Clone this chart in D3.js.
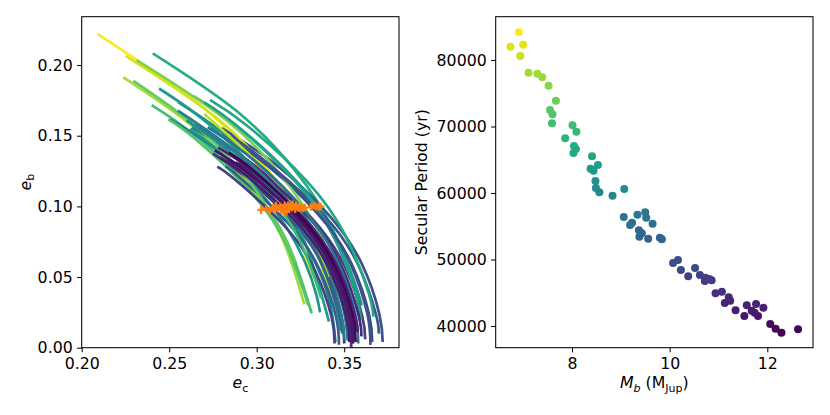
<!DOCTYPE html>
<html>
<head>
<meta charset="utf-8">
<script src="https://cdn.jsdelivr.net/npm/d3@7"></script>
<style>
  body { margin: 0; background: #fff; }
  text { font-family: "DejaVu Sans", sans-serif; }
</style>
</head>
<body>
<script>
var width = 830;
var height = 415;

// secular trajectories (e_c, e_b), shade = position on viridis
var trajShade = [0.62, 1.00, 0.25, 0.93, 0.70, 0.22, 0.55, 0.86,
                 0.50, 0.80, 0.28, 0.45, 0.60, 0.73, 0.18, 0.40, 0.15,
                 0.58, 0.55, 0.35, 0.52, 0.30, 0.76, 0.20, 0.26, 0.90,
                 0.12, 0.40, 0.48, 0.68, 0.32, 0.15, 0.42, 0.38,
                 0.05, 0.08, 0.03, 0.10, 0.00, 0.06];
var trajectories = [
  [[0.2406,0.2083],[0.288,0.168],[0.3215,0.126],[0.3434,0.084],[0.3559,0.042],[0.3584,0.026]],
  [[0.209,0.222],[0.2696,0.1698],[0.3009,0.1274],[0.3215,0.0849],[0.3317,0.050]],
  [[0.28,0.1554],[0.3107,0.1298],[0.3409,0.0944],[0.3602,0.059],[0.3701,0.0236],[0.372,0.004]],
  [[0.2251,0.2065],[0.2764,0.1632],[0.3085,0.1224],[0.3296,0.0816],[0.342,0.0385]],
  [[0.24,0.1716],[0.2664,0.1485],[0.2974,0.1114],[0.3176,0.0743],[0.3314,0.0243]],
  [[0.28,0.1513],[0.3057,0.1293],[0.3354,0.094],[0.3544,0.0588],[0.3642,0.0235],[0.366,0.004]],
  [[0.2638,0.178],[0.2896,0.156],[0.3233,0.117],[0.3453,0.078],[0.3579,0.039],[0.3596,0.030]],
  [[0.2238,0.1912],[0.2636,0.1563],[0.2942,0.1172],[0.3143,0.0782],[0.3272,0.0307]],
  [[0.2552,0.1736],[0.2816,0.1512],[0.3143,0.1134],[0.3358,0.0756],[0.348,0.0378],[0.3517,0.010]],
  [[0.2314,0.2035],[0.2816,0.162],[0.3143,0.1215],[0.3358,0.081],[0.3472,0.0443]],
  [[0.29,0.1441],[0.309,0.1276],[0.3391,0.0928],[0.3582,0.058],[0.3682,0.0232],[0.3697,0.010]],
  [[0.2505,0.1616],[0.276,0.141],[0.3081,0.1058],[0.3291,0.0705],[0.3411,0.0353],[0.345,0.004]],
  [[0.2733,0.1754],[0.2944,0.1572],[0.3286,0.1179],[0.351,0.0786],[0.3638,0.0393],[0.3667,0.022]],
  [[0.2495,0.1616],[0.2656,0.147],[0.2965,0.1103],[0.3167,0.0735],[0.3295,0.030]],
  [[0.277,0.1468],[0.3023,0.1254],[0.3318,0.0912],[0.3505,0.057],[0.3602,0.0228],[0.362,0.006]],
  [[0.2629,0.1559],[0.284,0.1392],[0.317,0.1044],[0.3386,0.0696],[0.351,0.0348],[0.355,0.003]],
  [[0.275,0.1373],[0.2923,0.1221],[0.3208,0.0888],[0.3389,0.0555],[0.3483,0.0222],[0.35,0.003]],
  [[0.27,0.1736],[0.2884,0.1572],[0.3219,0.1179],[0.3439,0.0786],[0.3564,0.0393],[0.3595,0.020]],
  [[0.2442,0.1834],[0.2736,0.1572],[0.3054,0.1179],[0.3262,0.0786],[0.3413,0.0184]],
  [[0.27,0.1532],[0.2973,0.1293],[0.3263,0.094],[0.3447,0.0588],[0.3542,0.0235],[0.3558,0.007]],
  [[0.262,0.1548],[0.2823,0.1348],[0.3098,0.098],[0.3273,0.0613],[0.3342,0.0368],[0.3362,0.025]],
  [[0.282,0.1282],[0.2898,0.121],[0.318,0.088],[0.336,0.055],[0.3453,0.022],[0.347,0.002]],
  [[0.2295,0.1888],[0.2648,0.1572],[0.2956,0.1179],[0.3157,0.0786],[0.3222,0.060]],
  [[0.2775,0.128],[0.2877,0.1188],[0.3157,0.0864],[0.3335,0.054],[0.3428,0.0216],[0.3445,0.003]],
  [[0.285,0.1499],[0.3048,0.132],[0.3345,0.096],[0.3534,0.06],[0.3632,0.024],[0.365,0.002]],
  [[0.27,0.1653],[0.3108,0.1179],[0.332,0.0786],[0.3416,0.050]],
  [[0.29,0.1363],[0.3007,0.1265],[0.3299,0.092],[0.3486,0.0575],[0.3582,0.023],[0.3598,0.008]],
  [[0.265,0.158],[0.294,0.132],[0.3226,0.096],[0.3408,0.06],[0.3502,0.024],[0.352,0.005]],
  [[0.26,0.1609],[0.2906,0.1331],[0.3189,0.0968],[0.3369,0.0605],[0.3463,0.0242],[0.3476,0.012]],
  [[0.285,0.139],[0.3036,0.1148],[0.3243,0.0765],[0.3368,0.035]],
  [[0.283,0.1334],[0.2915,0.1254],[0.3199,0.0912],[0.3379,0.057],[0.3473,0.0228],[0.3487,0.010]],
  [[0.29,0.1296],[0.2957,0.1243],[0.3244,0.0904],[0.3427,0.0565],[0.3522,0.0226],[0.354,0.0]],
  [[0.255,0.1678],[0.2923,0.1348],[0.3208,0.098],[0.3389,0.0613],[0.3483,0.0245],[0.35,0.006]],
  [[0.272,0.156],[0.299,0.132],[0.3281,0.096],[0.3466,0.06],[0.3562,0.024],[0.358,0.003]],
  [[0.276,0.1396],[0.2965,0.1221],[0.3254,0.0888],[0.3437,0.0555],[0.3532,0.0222],[0.355,0.003]],
  [[0.279,0.1348],[0.2948,0.121],[0.3235,0.088],[0.3418,0.055],[0.3512,0.022],[0.353,0.004]],
  [[0.285,0.1325],[0.2982,0.121],[0.3272,0.088],[0.3457,0.055],[0.3552,0.022],[0.3562,0.015]],
  [[0.278,0.1418],[0.299,0.1238],[0.3281,0.09],[0.3466,0.0563],[0.3562,0.0225],[0.3576,0.011]],
  [[0.284,0.138],[0.2985,0.125],[0.3265,0.091],[0.345,0.057],[0.3547,0.0228],[0.3565,0.004]],
  [[0.288,0.131],[0.2995,0.1205],[0.3262,0.0875],[0.3445,0.0545],[0.3538,0.0218],[0.3555,0.006]]
];

// present-day eccentricities (orange crosses)
var obsEc = [0.3025, 0.3055, 0.3075, 0.309, 0.3105, 0.312, 0.3135, 0.314, 0.315, 0.316,
             0.3165, 0.3175, 0.318, 0.3185, 0.3195, 0.320, 0.3205, 0.3215, 0.322, 0.3225,
             0.3235, 0.3245, 0.3255, 0.3265, 0.3275, 0.331, 0.3325, 0.334, 0.3355, 0.3365,
             0.311, 0.3155, 0.317];
var obsEb = [0.0975, 0.0985, 0.097, 0.099, 0.0975, 0.0985, 0.100, 0.0975, 0.099, 0.1005,
             0.098, 0.0995, 0.101, 0.0985, 0.100, 0.099, 0.1015, 0.0995, 0.098, 0.1005,
             0.099, 0.0998, 0.099, 0.0985, 0.0992, 0.0995, 0.1005, 0.0995, 0.100, 0.0998,
             0.1005, 0.0965, 0.096];

// secular period vs planet b mass
var massB = [6.91, 6.74, 7.00, 6.94, 7.11, 7.29, 7.39, 7.52, 7.67, 7.55,
             7.60, 7.59, 8.01, 8.09, 7.86, 8.04, 8.08, 8.03, 8.41, 8.53,
             8.38, 8.44, 8.48, 8.49, 8.56, 8.83, 9.07, 9.06, 9.34, 9.50,
             9.52, 9.65, 9.23, 9.19, 9.37, 9.43, 9.38, 9.56, 9.80, 9.84,
             10.07, 10.17, 10.23, 10.38, 10.52, 10.62, 10.73, 10.86, 10.72, 10.81,
             10.94, 11.07, 11.21, 11.13, 11.24, 11.35, 11.53, 11.58, 11.68, 11.77,
             11.81, 11.92, 11.74, 12.06, 12.17, 12.29, 12.63];
var secPeriod = [84170, 82000, 82300, 80600, 78090, 77940, 77400, 76140, 73880, 72480,
                 71830, 70480, 70180, 69220, 68230, 67070, 66620, 66020, 65520, 64210,
                 63650, 63350, 61800, 60750, 60110, 59600, 60600, 56390, 56740, 57100,
                 56290, 55380, 55530, 55190, 54390, 53940, 53430, 53130, 53280, 53040,
                 49470, 49920, 48420, 47470, 48720, 47670, 47260, 46870, 46770, 47070,
                 44920, 45160, 44320, 43460, 43810, 42360, 41500, 43110, 42300, 43310,
                 41500, 42750, 42000, 40300, 39590, 38990, 39500];

var ecTicks = [0.20, 0.25, 0.30, 0.35];
var ebTicks = [0.00, 0.05, 0.10, 0.15, 0.20];
var massTicks = [8, 10, 12];
var periodTicks = [40000, 50000, 60000, 70000, 80000];

var fontSize = 15.75;
var subSize = 11;
var tickLen = 4.6;

var svg = d3.select("body").append("svg")
  .attr("width", width)
  .attr("height", height);

var boxL = { left: 81.7, right: 399, top: 16.7, bottom: 347.7 };
var boxR = { left: 495.7, right: 813, top: 16.7, bottom: 347.7 };

// ---- left panel ----
var xL = d3.scaleLinear().domain([0.2, 0.3813]).range([boxL.left, boxL.right]);
var yL = d3.scaleLinear().domain([0, 0.2342]).range([boxL.bottom, boxL.top]);

svg.append("defs").append("clipPath").attr("id", "clipL")
  .append("rect")
  .attr("x", boxL.left).attr("y", boxL.top)
  .attr("width", boxL.right - boxL.left).attr("height", boxL.bottom - boxL.top);

var gL = svg.append("g").attr("clip-path", "url(#clipL)");

var line = d3.line()
  .x(function (d) { return xL(d[0]); })
  .y(function (d) { return yL(d[1]); })
  .curve(d3.curveNatural);

gL.selectAll("path.traj")
  .data(trajectories)
  .enter()
  .append("path")
  .attr("class", "traj")
  .attr("fill", "none")
  .attr("stroke-width", 2.7)
  .attr("stroke-linecap", "butt")
  .attr("stroke", function (d, i) { return d3.interpolateViridis(trajShade[i]); })
  .attr("d", line);

gL.selectAll("path.obs")
  .data(obsEc)
  .enter()
  .append("path")
  .attr("class", "obs")
  .attr("transform", function (d, i) {
    return "translate(" + xL(d) + "," + yL(obsEb[i]) + ")";
  })
  .attr("d", "M-3.8,0H3.8M0,-3.8V3.8")
  .attr("stroke", "#ff7f0e")
  .attr("stroke-width", 2.2);

// ---- right panel ----
var xR = d3.scaleLinear().domain([6.437, 12.936]).range([boxR.left, boxR.right]);
var yR = d3.scaleLinear().domain([36737, 86511]).range([boxR.bottom, boxR.top]);
var color = d3.scaleSequential(d3.interpolateViridis).domain(d3.extent(secPeriod));

svg.append("g")
  .selectAll("circle")
  .data(massB)
  .enter()
  .append("circle")
  .attr("cx", function (d) { return xR(d); })
  .attr("cy", function (d, i) { return yR(secPeriod[i]); })
  .attr("r", 4.0)
  .attr("fill", function (d, i) { return color(secPeriod[i]); });

// ---- axes ----
function styleAxis(g) {
  g.select(".domain").remove();
  g.selectAll("line").attr("stroke", "#000").attr("stroke-width", 1.05);
  g.selectAll("text")
    .attr("fill", "#000")
    .style("font-family", "'DejaVu Sans', sans-serif")
    .style("font-size", fontSize + "px");
}

svg.append("g")
  .attr("transform", "translate(0," + boxL.bottom + ")")
  .call(d3.axisBottom(xL).tickValues(ecTicks).tickFormat(d3.format(".2f"))
    .tickSize(tickLen).tickPadding(5.4))
  .call(styleAxis);

svg.append("g")
  .attr("transform", "translate(" + boxL.left + ",0)")
  .call(d3.axisLeft(yL).tickValues(ebTicks).tickFormat(d3.format(".2f"))
    .tickSize(tickLen).tickPadding(4.4))
  .call(styleAxis);

svg.append("g")
  .attr("transform", "translate(0," + boxR.bottom + ")")
  .call(d3.axisBottom(xR).tickValues(massTicks).tickFormat(d3.format("d"))
    .tickSize(tickLen).tickPadding(5.4))
  .call(styleAxis);

svg.append("g")
  .attr("transform", "translate(" + boxR.left + ",0)")
  .call(d3.axisLeft(yR).tickValues(periodTicks).tickFormat(d3.format("d"))
    .tickSize(tickLen).tickPadding(4.4))
  .call(styleAxis);

// spines
[boxL, boxR].forEach(function (b) {
  svg.append("rect")
    .attr("x", b.left).attr("y", b.top)
    .attr("width", b.right - b.left).attr("height", b.bottom - b.top)
    .attr("fill", "none")
    .attr("stroke", "#000")
    .attr("stroke-width", 1.05);
});

// ---- axis labels ----
var xlabL = svg.append("text")
  .attr("x", (boxL.left + boxL.right) / 2)
  .attr("y", 388.3)
  .attr("text-anchor", "middle")
  .style("font-size", fontSize + "px");
xlabL.append("tspan").style("font-style", "italic").text("e");
xlabL.append("tspan").attr("dy", 3.2).style("font-size", subSize + "px").text("c");

var ylabL = svg.append("text")
  .attr("transform", "translate(30.5," + (boxL.top + boxL.bottom) / 2 + ") rotate(-90)")
  .attr("text-anchor", "middle")
  .style("font-size", fontSize + "px");
ylabL.append("tspan").style("font-style", "italic").text("e");
ylabL.append("tspan").attr("dy", 3.2).style("font-size", subSize + "px").text("b");

var xlabR = svg.append("text")
  .attr("x", (boxR.left + boxR.right) / 2)
  .attr("y", 388.3)
  .attr("text-anchor", "middle")
  .style("font-size", fontSize + "px");
xlabR.append("tspan").style("font-style", "italic").text("M");
xlabR.append("tspan").attr("dy", 3.2).style("font-style", "italic").style("font-size", subSize + "px").text("b");
xlabR.append("tspan").attr("dy", -3.2).text(" (M");
xlabR.append("tspan").attr("dy", 3.2).style("font-size", subSize + "px").text("Jup");
xlabR.append("tspan").attr("dy", -3.2).text(")");

svg.append("text")
  .attr("transform", "translate(427," + (boxR.top + boxR.bottom) / 2 + ") rotate(-90)")
  .attr("text-anchor", "middle")
  .style("font-size", fontSize + "px")
  .text("Secular Period (yr)");
</script>
</body>
</html>
